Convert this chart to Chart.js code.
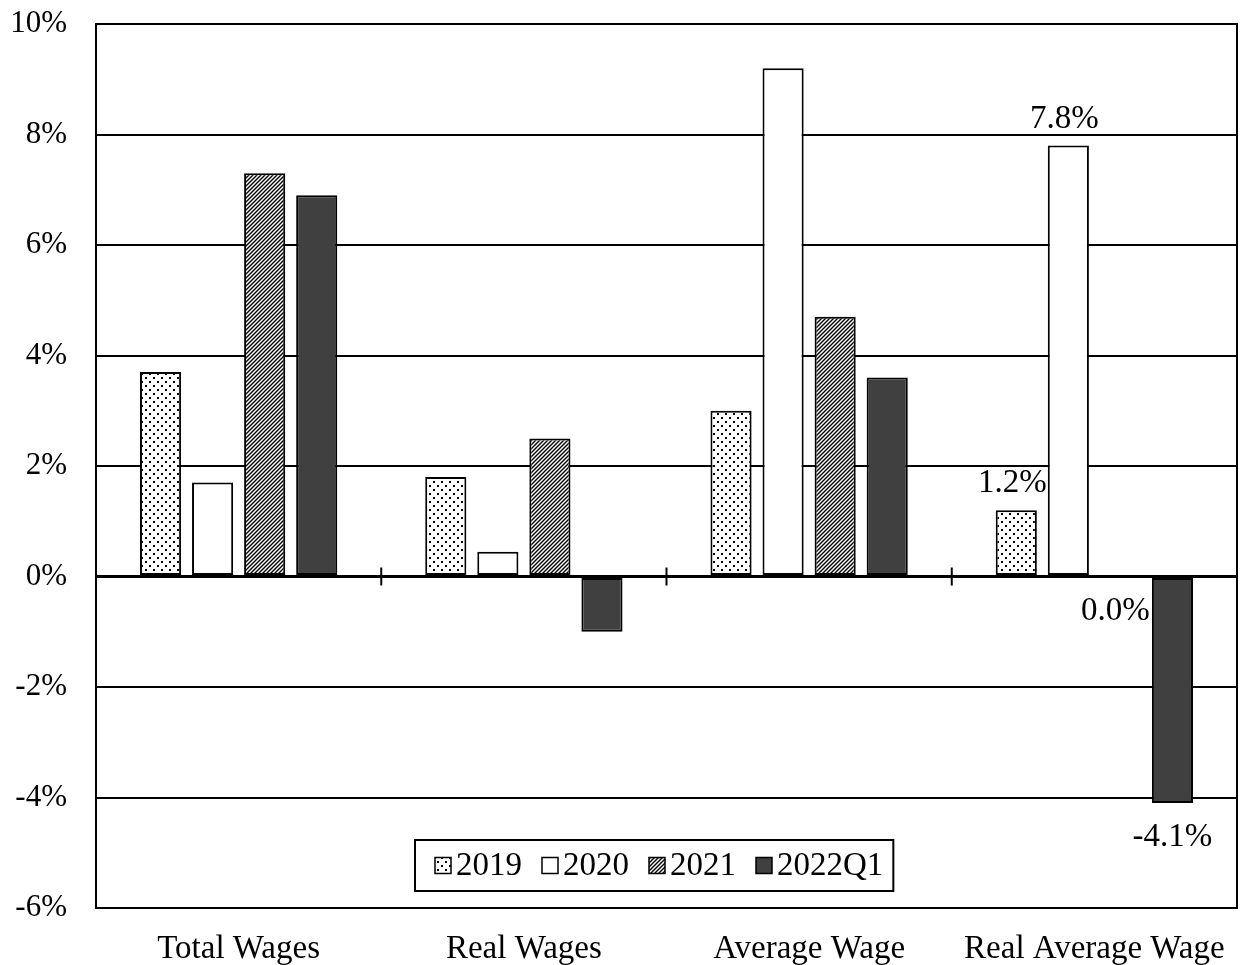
<!DOCTYPE html>
<html>
<head>
<meta charset="utf-8">
<script src="https://cdn.jsdelivr.net/npm/chart.js@4.4.1/dist/chart.umd.min.js"></script>
<style>
  html, body { margin: 0; padding: 0; background: #fff; }
  #wrap { width: 1243px; height: 965px; position: relative; }
</style>
</head>
<body>
<div id="wrap"><canvas id="chart"></canvas></div>
<script>
// categories and series (percent change)
const categories = ['Total Wages', 'Real Wages', 'Average Wage', 'Real Average Wage'];
const seriesNames = ['2019', '2020', '2021', '2022Q1'];
const values2019 = [3.7, 1.8, 3.0, 1.2];
const values2020 = [1.7, 0.45, 9.2, 7.8];
const values2021 = [7.3, 2.5, 4.7, -0.02];
const values2022Q1 = [6.9, -1.0, 3.6, -4.1];
// only the last category carries value labels
const labelledCategory = 3;

const FONT = 'Liberation Serif, "Times New Roman", serif';

// fill patterns
function dotPattern() {
  const c = document.createElement('canvas');
  c.width = 8; c.height = 8;
  const g = c.getContext('2d');
  g.fillStyle = '#fff'; g.fillRect(0, 0, 8, 8);
  g.fillStyle = '#000';
  g.fillRect(1, 1, 2, 2);
  g.fillRect(5, 5, 2, 2);
  return g.createPattern(c, 'repeat');
}
function hatchPattern() {
  const c = document.createElement('canvas');
  c.width = 4; c.height = 4;
  const g = c.getContext('2d');
  g.fillStyle = '#fff'; g.fillRect(0, 0, 4, 4);
  g.strokeStyle = '#000'; g.lineWidth = 1.4;
  g.beginPath();
  g.moveTo(-1, 5); g.lineTo(5, -1);
  g.moveTo(-1, 1); g.lineTo(1, -1);
  g.moveTo(3, 5); g.lineTo(5, 3);
  g.stroke();
  return g.createPattern(c, 'repeat');
}

const fills = [dotPattern(), '#ffffff', hatchPattern(), '#404040'];
const allValues = [values2019, values2020, values2021, values2022Q1];

// tick marks on the zero line between categories + right frame edge
const zeroTicks = {
  id: 'zeroTicks',
  afterDatasetsDraw(chart) {
    const { ctx, chartArea, scales: { x, y } } = chart;
    const y0 = y.getPixelForValue(0);
    ctx.save();
    ctx.strokeStyle = '#000';
    ctx.lineWidth = 2;
    for (let i = 1; i < categories.length; i++) {
      const xp = (x.getPixelForTick(i - 1) + x.getPixelForTick(i)) / 2;
      ctx.beginPath();
      ctx.moveTo(xp, y0 - 9);
      ctx.lineTo(xp, y0 + 9);
      ctx.stroke();
    }
    ctx.beginPath();
    ctx.moveTo(chartArea.right, chartArea.top - 1);
    ctx.lineTo(chartArea.right, chartArea.bottom + 1);
    ctx.stroke();
    ctx.restore();
  }
};

// value labels for the last group
const valueLabels = {
  id: 'valueLabels',
  afterDatasetsDraw(chart) {
    const { ctx } = chart;
    ctx.save();
    ctx.font = '33px ' + FONT;
    ctx.fillStyle = '#000';
    ctx.textAlign = 'center';
    ctx.textBaseline = 'alphabetic';
    chart.data.datasets.forEach((ds, di) => {
      const bar = chart.getDatasetMeta(di).data[labelledCategory];
      const v = ds.data[labelledCategory];
      const txt = v.toFixed(1).replace('-0.0', '0.0') + '%';
      if (v >= 0) {
        ctx.fillText(txt, bar.x - 4, bar.y - 18);
      } else if (v > -0.5) {
        ctx.fillText(txt, bar.x - 5, bar.y + 42);
      } else {
        ctx.fillText(txt, bar.x, bar.y + 43);
      }
    });
    ctx.restore();
  }
};

// boxed legend inside the plot area
const boxLegend = {
  id: 'boxLegend',
  afterDraw(chart) {
    const { ctx, chartArea } = chart;
    ctx.save();
    ctx.font = '33px ' + FONT;
    const sq = 16, gapText = 5, gapItem = 20, padL = 20, padR = 10;
    const widths = seriesNames.map(n => sq + gapText + ctx.measureText(n).width);
    const inner = widths.reduce((a, b) => a + b, 0) + gapItem * (seriesNames.length - 1);
    const boxW = inner + padL + padR, boxH = 51;
    const cx = (chartArea.left + chartArea.right) / 2 - 12;
    const left = Math.round(cx - boxW / 2);
    const top = chartArea.bottom - 68;
    ctx.fillStyle = '#fff';
    ctx.fillRect(left, top, boxW, boxH);
    ctx.strokeStyle = '#000';
    ctx.lineWidth = 2;
    ctx.strokeRect(left, top, boxW, boxH);
    let xp = left + padL;
    const cy = top + boxH / 2;
    seriesNames.forEach((n, i) => {
      ctx.fillStyle = fills[i];
      ctx.fillRect(xp, cy - sq / 2, sq, sq);
      ctx.lineWidth = 1.5;
      ctx.strokeRect(xp, cy - sq / 2, sq, sq);
      ctx.fillStyle = '#000';
      ctx.textBaseline = 'middle';
      ctx.textAlign = 'left';
      ctx.fillText(n, xp + sq + gapText, cy + 1);
      xp += widths[i] + gapItem;
    });
    ctx.restore();
  }
};

new Chart(document.getElementById('chart'), {
  type: 'bar',
  data: {
    labels: categories,
    datasets: seriesNames.map((name, i) => ({
      label: name,
      data: allValues[i],
      backgroundColor: fills[i],
      borderColor: '#000',
      borderWidth: 2,
      borderSkipped: false,
      categoryPercentage: 0.73,
      barPercentage: 0.79
    }))
  },
  options: {
    responsive: true,
    maintainAspectRatio: false,
    animation: false,
    layout: { padding: { top: 24, right: 6, left: 0, bottom: 0 } },
    plugins: {
      legend: { display: false },
      tooltip: { enabled: false }
    },
    scales: {
      x: {
        grid: { display: false },
        border: { display: false },
        ticks: { color: '#000', font: { family: FONT, size: 33 }, padding: 14, maxRotation: 0 },
        afterFit(s) { s.height = 57; s.paddingLeft = 0; s.paddingRight = 0; }
      },
      y: {
        min: -6,
        max: 10,
        ticks: {
          stepSize: 2,
          color: '#000',
          padding: 29,
          font: { family: FONT, size: 31 },
          callback: v => v + '%'
        },
        grid: {
          color: '#000',
          drawTicks: false,
          lineWidth: c => (c.tick && c.tick.value === 0 ? 3 : 2)
        },
        border: { display: true, color: '#000', width: 2 },
        afterFit(s) { s.width = 96; s.paddingTop = 0; s.paddingBottom = 0; }
      }
    }
  },
  plugins: [zeroTicks, valueLabels, boxLegend]
});
</script>
</body>
</html>
